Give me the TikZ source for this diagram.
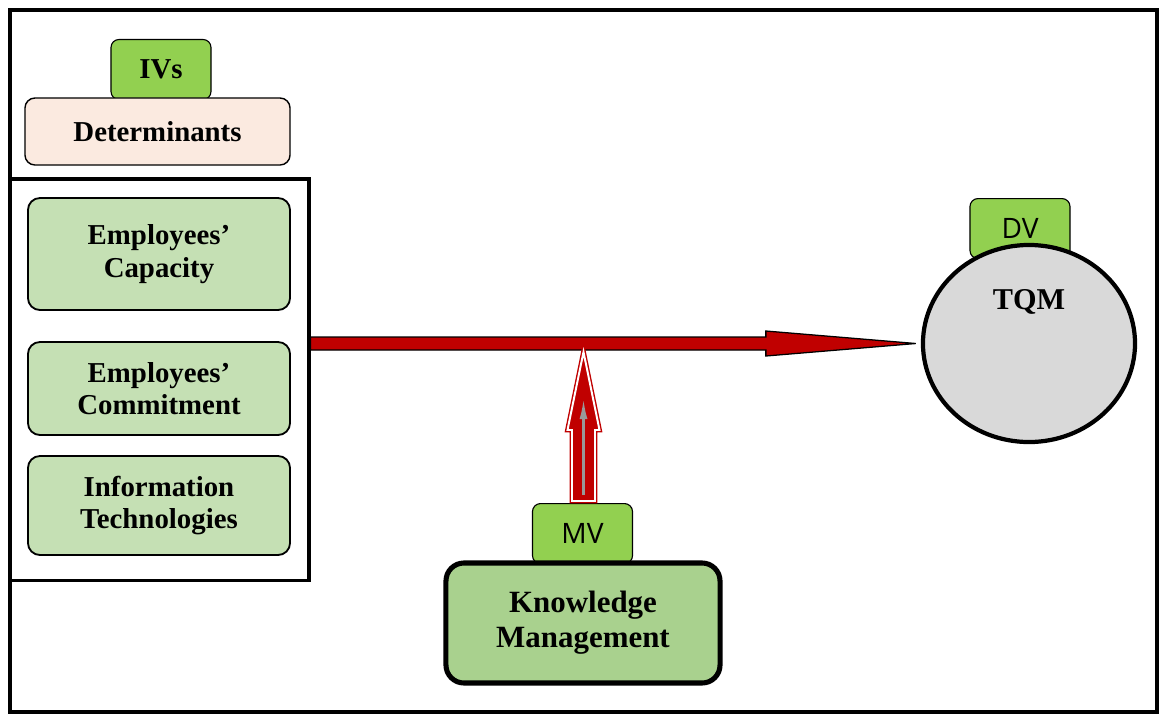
\documentclass[tikz,border=0pt]{standalone}
\usepackage{fontspec}
\setmainfont{Liberation Serif}
\newfontfamily\tagfont{Open Sans}
\usetikzlibrary{arrows.meta,positioning,calc,shapes.geometric}
\definecolor{taggreen}{HTML}{92D050}
\definecolor{peach}{HTML}{FBEAE0}
\definecolor{factgreen}{HTML}{C5E0B4}
\definecolor{kmgreen}{HTML}{A9D18E}
\definecolor{arrred}{HTML}{C00000}
\definecolor{tqmgray}{HTML}{D9D9D9}

\begin{document}
\begin{tikzpicture}[
    x=0.025cm, y=-0.025cm,
    font=\fontsize{20.5}{23}\selectfont\bfseries,
    vtag/.style={rectangle, rounded corners=0.2cm, draw, line width=0.8pt, fill=taggreen, minimum width=2.5cm, minimum height=1.5cm},
    ttag/.style={vtag, font=\tagfont\fontsize{20}{24}\selectfont, text depth=0pt, anchor=north, inner sep=2pt},
    factor/.style={rectangle, rounded corners=0.3cm, draw, line width=1.3pt, fill=factgreen, minimum width=6.55cm, align=center},
    frame/.style={draw, line width=2.2pt}
]
    \useasboundingbox (0,0) rectangle (1160,713);
    % outer frame
    \draw[frame] (10,10) rectangle (1157,712);
    % determinants
    \node[vtag] (ivs) at (161,69.5) {IVs};
    \node[rectangle, rounded corners=0.25cm, draw, line width=1pt, fill=peach, minimum width=6.625cm, minimum height=1.675cm] (det) at (157.5,131.5) {Determinants};
    \node[frame, rectangle, minimum width=7.475cm, minimum height=10.025cm] (ivframe) at (159.5,379.5) {};
    \node[factor, minimum height=2.8cm] (cap) at (159,254) {Employees'\\Capacity};
    \node[factor, minimum height=2.325cm] (com) at (159,388.5) {Employees'\\Commitment};
    \node[factor, minimum height=2.475cm] (it) at (159,505.5) {Information\\Technologies};
    % dependent variable
    \node[ttag] (dv) at (1020,198) {DV};
    \node[ellipse, draw, line width=3pt, fill=tqmgray, minimum width=5.3cm, minimum height=4.925cm] (tqm) at (1029,343.5) {};
    \node[font=\fontsize{21.5}{24}\selectfont\bfseries] (tqmlabel) at (1029,302) {TQM};
    % moderator
    \node[ttag] (mv) at (582.5,503) {MV};
    \node[rectangle, rounded corners=0.45cm, draw, line width=3.6pt, fill=kmgreen, minimum width=6.85cm, minimum height=3cm, align=center, font=\fontsize{22}{25}\selectfont\bfseries] (km) at (583,623) {Knowledge\\Management};
    % main effect
    \coordinate (tip) at ($(tqm.west)+(-5,0)$);
    \coordinate (start) at (ivframe.east |- tip);
    \draw[line width=0.9pt, fill=arrred, line join=miter]
        ($(start)+(0,-6.5)$) -- ($(tip)+(-150,-6.5)$) -- ($(tip)+(-150,-12.5)$) -- (tip)
        -- ($(tip)+(-150,12.5)$) -- ($(tip)+(-150,6.5)$) -- ($(start)+(0,6.5)$) -- cycle;
    % moderating effect
    \coordinate (mtip) at (583.5,352);
    \coordinate (mbase) at (mv.north -| mtip);
    \draw[draw=arrred, fill=arrred, line width=1pt, double=white, double distance=1.4pt, line join=miter]
        ($(mbase)+(-11.5,-2)$) -- ($(mtip)+(-11.5,78)$) -- ($(mtip)+(-16,78)$) -- (mtip)
        -- ($(mtip)+(16,78)$) -- ($(mtip)+(11.5,78)$) -- ($(mbase)+(11.5,-2)$) -- cycle;
    \draw[gray!80, line width=1.6pt, -{Latex[length=0.5cm, width=0.2cm]}] ($(mbase)+(0,-8)$) -- ($(mtip)+(0,47)$);
\end{tikzpicture}
\end{document}
